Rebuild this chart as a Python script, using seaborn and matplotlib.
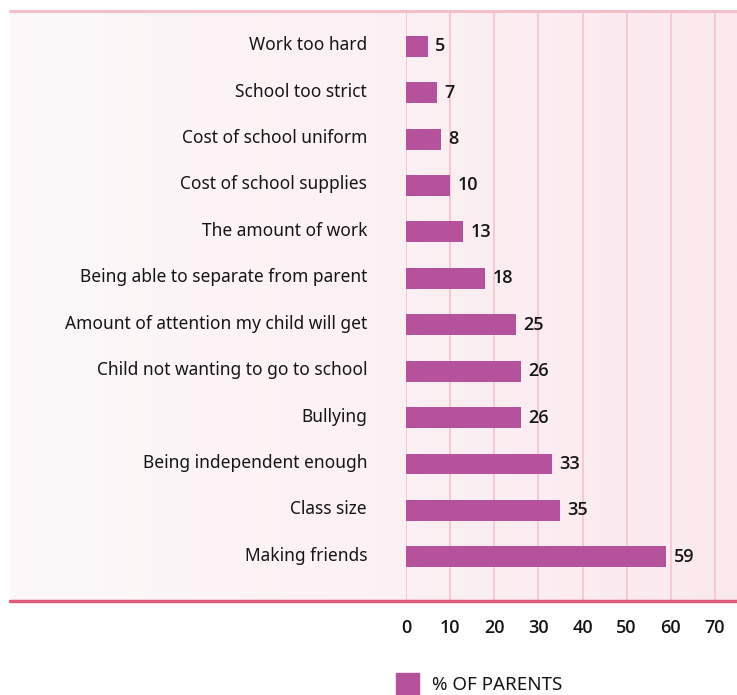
import matplotlib
matplotlib.use("Agg")
import matplotlib.pyplot as plt
import matplotlib.transforms as mtransforms
import seaborn as sns
import numpy as np
import pandas as pd
from matplotlib.patches import Rectangle
from matplotlib.lines import Line2D
from matplotlib.colors import LinearSegmentedColormap

categories = ["Work too hard", "School too strict", "Cost of school uniform",
              "Cost of school supplies", "The amount of work",
              "Being able to separate from parent",
              "Amount of attention my child will get",
              "Child not wanting to go to school", "Bullying",
              "Being independent enough", "Class size", "Making friends"]
values = [5, 7, 8, 10, 13, 18, 25, 26, 26, 33, 35, 59]
xticks = [0, 10, 20, 30, 40, 50, 60, 70]
series_name = "% OF PARENTS"

sns.set_theme(style="white")
plt.rcParams['font.family'] = ['Noto Sans', 'DejaVu Sans']
NUMFONT = ['Open Sans', 'Noto Sans', 'DejaVu Sans']

W, H = 737, 695
fig = plt.figure(figsize=(W / 100, H / 100), dpi=100)

# background gradient panel
bg = fig.add_axes([10 / W, 1 - 601 / H, 727 / W, 591 / H], zorder=0)
grad = np.linspace(0, 1, 256).reshape(1, -1)
cmap = LinearSegmentedColormap.from_list("bg", ["#FDF9FA", "#FBE9EE"])
bg.imshow(grad, aspect="auto", cmap=cmap, extent=[0, 1, 0, 1])
bg.set_axis_off()

ax = fig.add_axes([406 / W, 1 - 601 / H, (737 - 406) / W, 591 / H], zorder=1)
ax.patch.set_alpha(0)

df = pd.DataFrame({"category": categories, "value": values})
sns.barplot(data=df, x="value", y="category", color="#B5529B", saturation=1,
            width=0.45, linewidth=0, ax=ax, zorder=3)

ax.set_xlim(0, 75)
ax.set_ylim(len(categories) - 1 + 0.95, -0.78)
ax.set_xticks(xticks)
ax.set_xticklabels([str(t) for t in xticks], fontsize=13, fontweight=600,
                   family=NUMFONT, color="#161616")
ax.tick_params(axis="x", length=0, pad=13)
ax.tick_params(axis="y", length=0, pad=28, labelsize=12.5, labelcolor="#161616")
ax.set_xlabel("")
ax.set_ylabel("")
offset = mtransforms.ScaledTranslation(0, 3 / 100, fig.dpi_scale_trans)
for lab in ax.get_yticklabels():
    lab.set_transform(lab.get_transform() + offset)
for t in xticks:
    ax.axvline(t, color="#F5C3D0", lw=1.2, zorder=1)
for s in ax.spines.values():
    s.set_visible(False)

for i, v in enumerate(values):
    ax.text(v + 1.6, i, str(v), va="center", ha="left", fontsize=13,
            fontweight=600, family=NUMFONT, color="#161616", zorder=4)

# top and bottom lines
fig.add_artist(Line2D([10 / W, 1], [1 - 10.5 / H, 1 - 10.5 / H], color="#F6BFCC", lw=2.2,
                      transform=fig.transFigure))
fig.add_artist(Line2D([10 / W, 1], [1 - 601 / H, 1 - 601 / H], color="#E05A7C", lw=2.5,
                      transform=fig.transFigure))

# legend
fig.add_artist(Rectangle((396 / W, 1 - 695 / H), 23 / W, 22 / H, color="#B5529B",
                         transform=fig.transFigure))
fig.text(432 / W, 1 - 685 / H, series_name, fontsize=13.5, fontweight="medium",
         color="#161616", va="center", ha="left")

fig.savefig("out.png", dpi=100)
